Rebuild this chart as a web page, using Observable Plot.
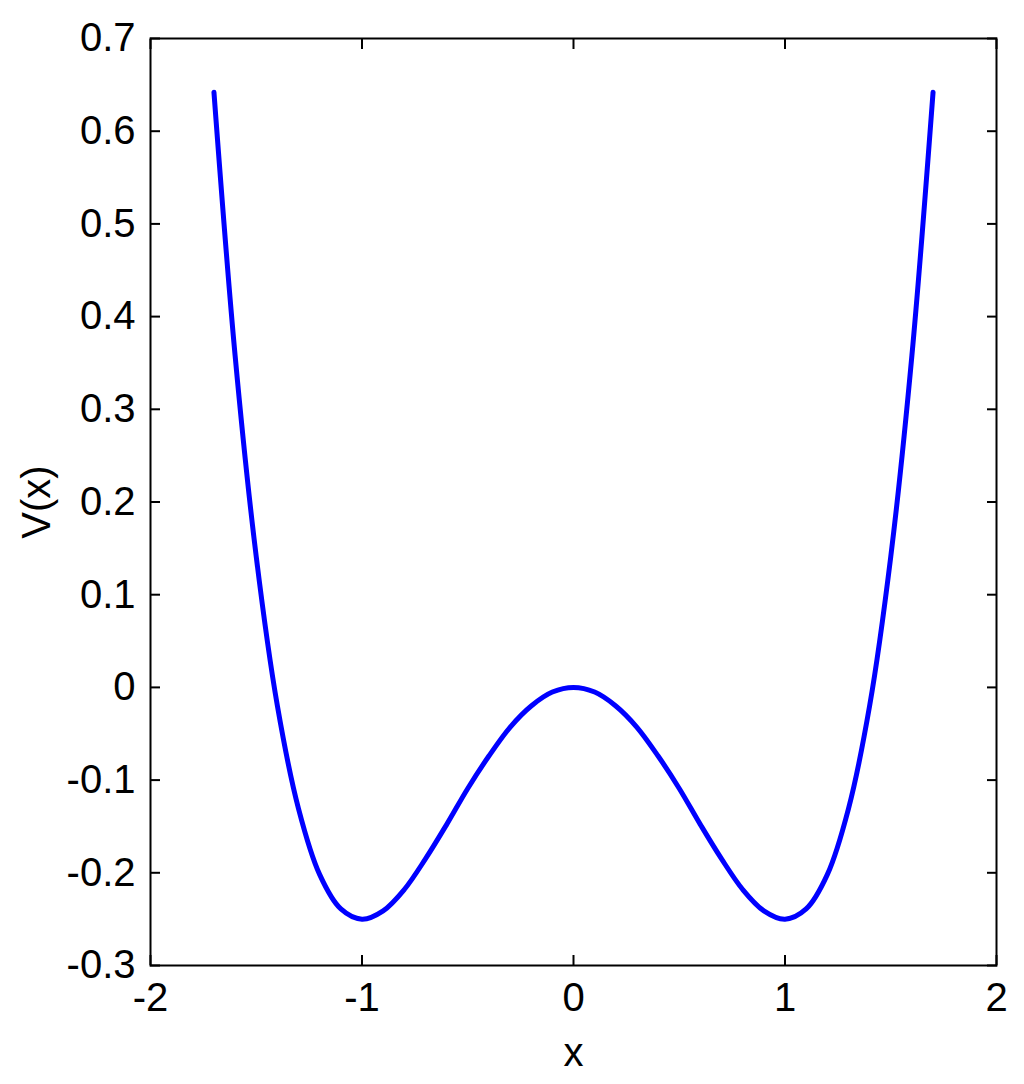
<!DOCTYPE html>
<html>
<head>
<meta charset="utf-8">
<script src="https://cdn.jsdelivr.net/npm/d3@7"></script>
<script src="https://cdn.jsdelivr.net/npm/@observablehq/plot@0.6"></script>
<style>
  html, body { margin: 0; padding: 0; background: #fff; }
  svg { display: block; }
</style>
</head>
<body>
<div id="chart"></div>
<script>
const xValues = [-1.7, -1.6, -1.5, -1.4, -1.3, -1.2, -1.1, -1.0, -0.9, -0.8, -0.7, -0.6, -0.5, -0.4, -0.3, -0.2, -0.1, 0.0,
                 0.1, 0.2, 0.3, 0.4, 0.5, 0.6, 0.7, 0.8, 0.9, 1.0, 1.1, 1.2, 1.3, 1.4, 1.5, 1.6, 1.7];
const vValues = [0.642, 0.358, 0.141, -0.020, -0.131, -0.202, -0.239, -0.250, -0.241, -0.218, -0.185, -0.148, -0.109, -0.074, -0.043, -0.020, -0.005, 0.000,
                 -0.005, -0.020, -0.043, -0.074, -0.109, -0.148, -0.185, -0.218, -0.241, -0.250, -0.239, -0.202, -0.131, -0.020, 0.141, 0.358, 0.642];
const xTicks = [-2, -1, 0, 1, 2];
const yTicks = [-0.3, -0.2, -0.1, 0, 0.1, 0.2, 0.3, 0.4, 0.5, 0.6, 0.7];
const xLabel = "x";
const yLabel = "V(x)";

const data = xValues.map((x, i) => ({x, v: vValues[i]}));
const font = "'Liberation Sans Narrow', 'Liberation Sans', Arial, sans-serif";

const chart = Plot.plot({
  width: 1024,
  height: 1084,
  marginLeft: 150,
  marginRight: 28,
  marginTop: 38,
  marginBottom: 119,
  style: {fontFamily: font, fontSize: "40px", color: "#000", background: "#fff"},
  x: {domain: [-2, 2]},
  y: {domain: [-0.3, 0.7]},
  marks: [
    Plot.line(data, {x: "x", y: "v", stroke: "#0000ff", strokeWidth: 5, curve: "catmull-rom"}),
    Plot.frame({stroke: "#000", strokeWidth: 2}),
    // inward ticks on all sides
    Plot.axisX(xTicks, {anchor: "bottom", tickSize: -10, text: null, label: null, strokeWidth: 2}),
    Plot.axisX(xTicks, {anchor: "top", tickSize: -10, text: null, label: null, strokeWidth: 2}),
    Plot.axisY(yTicks, {anchor: "left", tickSize: -10, text: null, label: null, strokeWidth: 2}),
    Plot.axisY(yTicks, {anchor: "right", tickSize: -10, text: null, label: null, strokeWidth: 2}),
    // tick labels
    Plot.axisX(xTicks, {anchor: "bottom", tickSize: 0, tickPadding: 17, label: null, tickFormat: d => String(d), fontSize: 40}),
    Plot.axisY(yTicks, {anchor: "left", tickSize: 0, tickPadding: 15, label: null, tickFormat: d => String(d), fontSize: 40}),
    // axis titles
    Plot.text([xLabel], {frameAnchor: "bottom", dy: 100, textAnchor: "middle", text: d => d, fontSize: 40}),
    Plot.text([yLabel], {frameAnchor: "left", dx: -113, rotate: -90, textAnchor: "middle", text: d => d, fontSize: 40})
  ]
});
document.getElementById("chart").appendChild(chart);
</script>
</body>
</html>
